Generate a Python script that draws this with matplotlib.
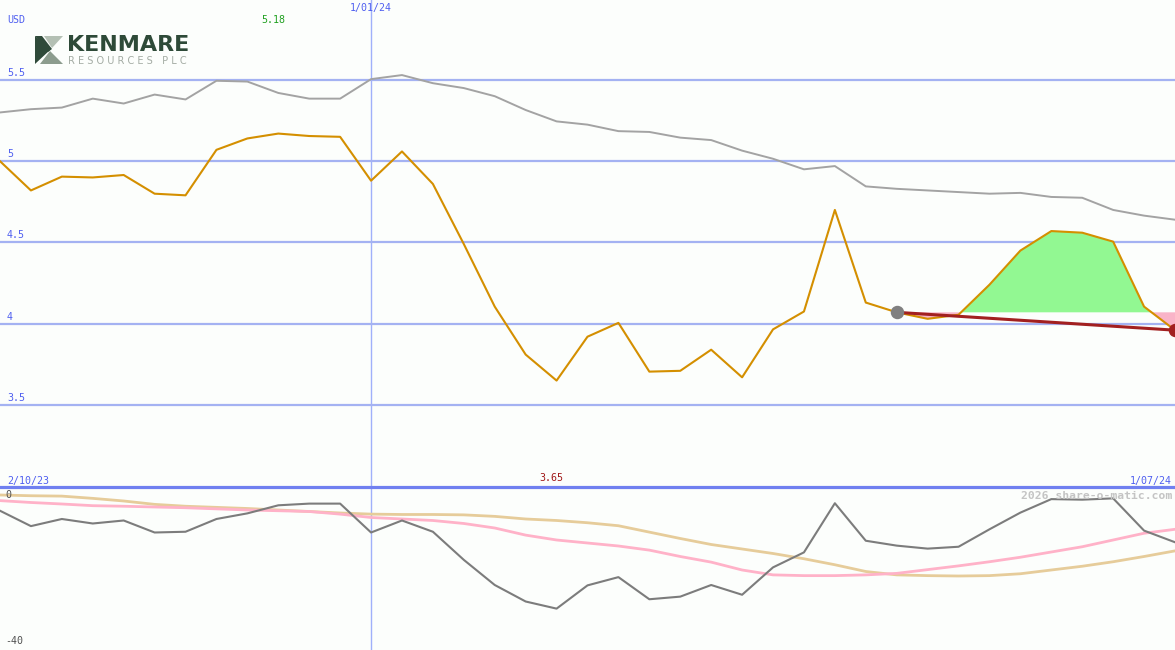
import numpy as np
from matplotlib import pyplot as plt
from matplotlib.patches import Polygon

# share price (USD), one point per week-ish step
price = [5.00, 4.82, 4.905, 4.90, 4.915, 4.80, 4.79, 5.07, 5.14, 5.17,
         5.155, 5.15, 4.88, 5.06, 4.86, 4.49, 4.105, 3.81, 3.65, 3.92,
         4.005, 3.705, 3.71, 3.84, 3.67, 3.965, 4.075, 4.70, 4.13, 4.07,
         4.03, 4.055, 4.24, 4.45, 4.57, 4.56, 4.505, 4.105, 3.96]
ma_price = [5.30, 5.32, 5.33, 5.385, 5.355, 5.41, 5.38, 5.495, 5.49, 5.42,
            5.385, 5.385, 5.505, 5.53, 5.48, 5.45, 5.40, 5.315, 5.245, 5.225,
            5.185, 5.18, 5.145, 5.13, 5.065, 5.015, 4.95, 4.97, 4.845, 4.83,
            4.82, 4.81, 4.80, 4.805, 4.78, 4.775, 4.70, 4.665, 4.64]

# lower panel (momentum)
mom = [-4.2, -8.3, -6.4, -7.6, -6.8, -10.0, -9.8, -6.4, -4.9, -2.75,
       -2.3, -2.3, -10.0, -6.8, -9.8, -17.3, -24.0, -28.4, -30.3, -24.1,
       -21.9, -27.8, -27.1, -24.0, -26.6, -19.3, -15.3, -2.2, -12.2, -13.5,
       -14.3, -13.8, -9.15, -4.7, -1.1, -1.25, -0.9, -9.5, -12.6]
mom_slow = [0.0, -0.2, -0.3, -0.9, -1.6, -2.5, -3.0, -3.3, -3.6, -4.0,
            -4.4, -4.8, -5.1, -5.2, -5.2, -5.3, -5.7, -6.4, -6.8, -7.4,
            -8.2, -9.9, -11.6, -13.2, -14.4, -15.6, -17.0, -18.6, -20.4, -21.3,
            -21.5, -21.6, -21.5, -21.0, -20.0, -19.0, -17.8, -16.4, -14.9]
mom_fast = [-1.5, -2.0, -2.4, -2.85, -3.0, -3.2, -3.4, -3.7, -4.0, -4.2,
            -4.4, -5.1, -6.0, -6.4, -6.8, -7.6, -8.8, -10.7, -12.0, -12.8,
            -13.6, -14.7, -16.4, -17.9, -20.0, -21.3, -21.5, -21.5, -21.3, -20.9,
            -19.9, -18.9, -17.8, -16.6, -15.2, -13.8, -12.0, -10.2, -9.15]

grid_levels = [3.5, 4, 4.5, 5, 5.5]
grid_labels = ['3.5', '4', '4.5', '5', '5.5']
year_idx = 12
trend_start = 29

x = np.arange(len(price))
price = np.array(price)

W, H = 1175, 650
bg = '#fcfefc'
blue_txt = '#4f5ff0'
mono = 'DejaVu Sans Mono'

fig = plt.figure(figsize=(W / 100, H / 100), dpi=100, facecolor=bg)

ax1 = fig.add_axes([0, 163 / H, 1, 487 / H], facecolor=bg)
ax2 = fig.add_axes([0, 0, 1, 163 / H], facecolor=bg)
for ax in (ax1, ax2):
    ax.set_xlim(0, len(price) - 1)
    ax.axis('off')
    ax.axvline(year_idx, color='#a0b0fa', lw=1.0, zorder=1)

ax1.set_ylim(2.995, 5.992)
ax2.set_ylim(-41.33, 2.13)

# upper panel
for lv, lb in zip(grid_levels, grid_labels):
    ax1.axhline(lv, color='#a4b2f2', lw=1.6, zorder=1)
    ax1.text(0.006, lv + 0.012, lb, transform=ax1.get_yaxis_transform(),
             color=blue_txt, fontsize=7.2, family=mono, va='bottom', ha='left')

ax1.plot(x, ma_price, color='#a3a3a3', lw=1.4, zorder=3)

level = price[trend_start]
xs = x[trend_start:]
ps = price[trend_start:]
ax1.fill_between(xs, ps, level, where=ps >= level, interpolate=True,
                 color='#92f892', lw=0, zorder=2)
ax1.fill_between(xs, ps, level, where=ps <= level, interpolate=True,
                 color='#f9b4c8', lw=0, zorder=2)
ax1.plot(x, price, color='#d48f00', lw=1.5, zorder=4)
ax1.plot([trend_start, x[-1]], [level, price[-1]], color='#a22020', lw=2.2, zorder=5)
ax1.scatter([trend_start], [level], s=75, color='#808080', zorder=6)
ax1.scatter([x[-1]], [price[-1]], s=75, color='#a22020', zorder=6)

# lower panel
ax2.plot(x, mom_slow, color='#e6cc9a', lw=2, zorder=2)
ax2.plot(x, mom_fast, color='#ffb2c8', lw=2, zorder=2)
ax2.plot(x, mom, color='#7c7c7c', lw=1.5, zorder=3)

# separator line
fig.add_artist(plt.Line2D([0, 1], [1 - 487 / H] * 2, color='#7080f0', lw=2.3,
                          transform=fig.transFigure))


def ftext(px, py, s, **kw):
    kw.setdefault('family', mono)
    kw.setdefault('fontsize', 7.2)
    fig.text(px / W, 1 - py / H, s, **kw)


ftext(7, 20, 'USD', color=blue_txt, va='center')
ftext(273, 20, '5.18', color='#20a020', va='center', ha='center')
ftext(371, 8, '1/01/24', color=blue_txt, va='center', ha='center')
ftext(7, 481, '2/10/23', color=blue_txt, va='center')
ftext(551, 478, '3.65', color='#a01818', va='center', ha='center')
ftext(1172, 481, '1/07/24', color=blue_txt, va='center', ha='right')
ftext(1172, 496, '2026 share-o-matic.com', color='#c4c4c4', va='center', ha='right',
      fontsize=8.2, fontweight='bold')
ftext(5, 495, '0', color='#505050', va='center')
ftext(5, 641, '-40', color='#505050', va='center')

# logo
def fpoly(pts, color):
    fig.add_artist(Polygon([(px / W, 1 - py / H) for px, py in pts], closed=True,
                           color=color, lw=0, transform=fig.transFigure))


fpoly([(35, 36), (35, 64), (50, 50)], '#2f4a3a')
fpoly([(35, 36), (42, 36), (52, 49), (48, 52)], '#2f4a3a')
fpoly([(44, 36), (63, 36), (52, 48)], '#b4c0b4')
fpoly([(50, 51), (63, 64), (40, 64)], '#8c9c8e')
ftext(67, 45, 'KENMARE', family='DejaVu Sans', fontsize=16, fontweight='bold',
      color='#2e4a38', va='center')
ftext(68, 61, 'R E S O U R C E S   P L C', family='DejaVu Sans', fontsize=7.0,
      color='#a4aca4', va='center')

plt.savefig('out.png', dpi=100, facecolor=bg)
